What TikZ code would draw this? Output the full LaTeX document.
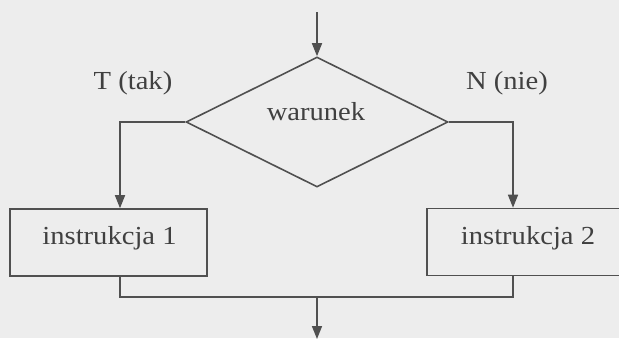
\documentclass[tikz,border=0pt]{standalone}
\usepackage{fontspec}
\setmainfont{Liberation Serif}[FakeStretch=1.1]
\usetikzlibrary{shapes.geometric,arrows.meta}
\definecolor{ln}{HTML}{505050}
\definecolor{tx}{HTML}{404040}
\definecolor{bg}{HTML}{EDEDED}
\tikzset{
  lbl/.style={text=tx,font=\fontsize{26}{28}\selectfont,inner sep=0pt},
  cond/.style={diamond,draw=ln,line width=1.6pt,minimum width=262pt,minimum height=130pt,inner sep=0pt},
  instr/.style={rectangle,draw=ln,line width=1.6pt,minimum height=67pt,inner sep=0pt},
  arr/.style={draw=ln,line width=1.6pt,-{Triangle[length=13pt,width=10pt]}},
  ln/.style={draw=ln,line width=1.6pt}
}
\begin{document}
\begin{tikzpicture}[x=1pt,y=-1pt]
\fill[bg] (0,0) rectangle (619,338);
\useasboundingbox (0,0) rectangle (619,338);
\clip (0,0) rectangle (619,338);
\node[cond] (d) at (317,122) {};
\node[lbl] (w) at (316,112) {warunek};
\node[instr,minimum width=197pt] (b1) at (108.5,242.5) {};
\node[lbl] (t1) at (109.5,238) {instrukcja 1};
\node[instr,minimum width=204pt] (b2) at (529,242) {};
\node[lbl] (t2) at (528,238) {instrukcja 2};
\node[lbl] (T) at (133,83) {T (tak)};
\node[lbl] (N) at (507,83) {N (nie)};
\coordinate (start) at (317,12);
\coordinate (lx) at (120,0);
\coordinate (rx) at (513,0);
\coordinate (m) at (317,297);
\coordinate (end) at (317,339);
\draw[arr] (start) -- (d.north);
\draw[arr] (d.west) -| (b1.north -| lx);
\draw[arr] (d.east) -| (b2.north -| rx);
\draw[ln] (b1.south -| lx) |- (m);
\draw[ln] (b2.south -| rx) |- (m);
\draw[arr] (m) -- (end);
\end{tikzpicture}
\end{document}
